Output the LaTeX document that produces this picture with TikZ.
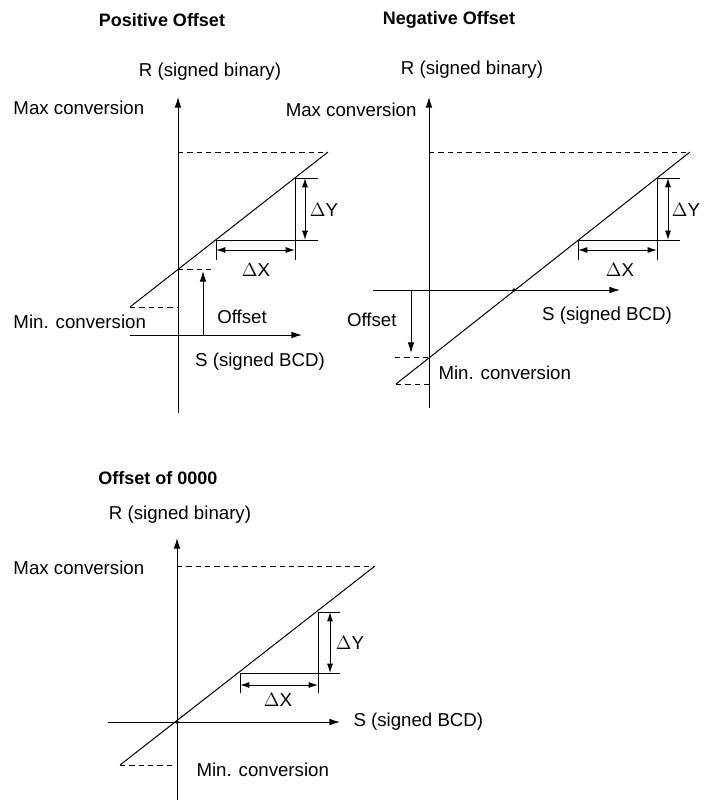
\documentclass[tikz,border=0pt]{standalone}
\usepackage{fontspec}
\setmainfont{Liberation Sans}
\usetikzlibrary{arrows.meta}
\tikzset{every picture/.style={line width=0.75pt}}
\tikzset{
  lbl/.style={inner sep=0.75pt,font=\fontsize{14}{16}\selectfont},
  ttl/.style={inner sep=0.75pt,font=\fontsize{13.5}{16}\selectfont\bfseries},
  axis/.style={-{Latex[length=8pt,width=5pt]}},
  dim/.style={{Latex[length=7pt,width=4.5pt]}-{Latex[length=7pt,width=4.5pt]}},
  dsh/.style={dash pattern=on 4pt off 3pt}
}
\begin{document}
\begin{tikzpicture}[x=0.75pt,y=0.75pt,yscale=-1,xscale=1]
\useasboundingbox (0,0) rectangle (704,801);

% Positive Offset
\node[ttl] (t1) at (162,20) {Positive Offset};
\coordinate (p-yb) at (178,413); \coordinate (p-yt) at (178,97);
\coordinate (p-xl) at (130,335); \coordinate (p-xr) at (302,335);
\coordinate (p-a) at (130,307); \coordinate (p-b) at (328,152);
\coordinate (p-c) at (178,269); \coordinate (p-d) at (212,269);
\coordinate (p-e) at (178,307); \coordinate (p-f) at (178,152);
\coordinate (p-o) at (203,335); \coordinate (p-oo) at (203,271);
\coordinate (p-y1) at (295,178); \coordinate (p-y1r) at (318,178);
\coordinate (p-x1) at (216,240); \coordinate (p-y2r) at (318,240);
\coordinate (p-x1b) at (216,260); \coordinate (p-x2b) at (295,260);
\draw[axis] (p-yb) -- (p-yt);
\draw[axis] (p-xl) -- (p-xr);
\draw (p-a) -- (p-b);
\draw[dsh] (p-f) -- (p-b);
\draw[dsh] (p-c) -- (p-d);
\draw[dsh] (p-a) -- (p-e);
\draw[axis] (p-o) -- (p-oo);
\draw (p-y1) -- (p-y1r);
\draw (p-x1) -- (p-y2r);
\draw (p-y1) -- (p-x2b);
\draw (p-x1) -- (p-x1b);
\draw[dim] (305,178) -- (305,240);
\draw[dim] (216,250) -- (295,250);
\node[lbl] (p-r) at (210,72) {R (signed binary)};
\node[lbl,anchor=west] (p-max) at (12,108) {Max conversion};
\node[lbl,anchor=west] (p-min) at (12,322) {Min. conversion};
\node[lbl] (p-off) at (242,317) {Offset};
\node[lbl] (p-s) at (260,362) {S (signed BCD)};
\node[lbl] (p-dx) at (256,270) {$\Delta$X};
\node[lbl] (p-dy) at (324,210) {$\Delta$Y};

% Negative Offset
\node[ttl] (t2) at (449,20) {Negative Offset};
\coordinate (n-yb) at (429,408); \coordinate (n-yt) at (429,97);
\coordinate (n-xl) at (373,290); \coordinate (n-xr) at (620,290);
\coordinate (n-a) at (396,384); \coordinate (n-b) at (690,152);
\coordinate (n-z) at (514,290);
\coordinate (n-c) at (395,357); \coordinate (n-d) at (429,357);
\coordinate (n-e) at (429,384); \coordinate (n-f) at (429,152);
\coordinate (n-o) at (411,290); \coordinate (n-oo) at (411,353);
\coordinate (n-y1) at (657,178); \coordinate (n-y1r) at (680,178);
\coordinate (n-x1) at (578,240); \coordinate (n-y2r) at (680,240);
\coordinate (n-x1b) at (578,260); \coordinate (n-x2b) at (657,260);
\draw[axis] (n-yb) -- (n-yt);
\draw[axis] (n-xl) -- (n-xr);
\draw (n-a) -- (n-b);
\fill (n-z) circle (1.8);
\draw[dsh] (n-f) -- (n-b);
\draw[dsh] (n-c) -- (n-d);
\draw[dsh] (n-a) -- (n-e);
\draw[axis] (n-o) -- (n-oo);
\draw (n-y1) -- (n-y1r);
\draw (n-x1) -- (n-y2r);
\draw (n-y1) -- (n-x2b);
\draw (n-x1) -- (n-x1b);
\draw[dim] (668,178) -- (668,240);
\draw[dim] (578,250) -- (657,250);
\node[lbl] (n-r) at (472,70) {R (signed binary)};
\node[lbl,anchor=east] (n-max) at (418,110) {Max conversion};
\node[lbl,anchor=west] (n-min) at (437,373) {Min. conversion};
\node[lbl,anchor=east] (n-off) at (398,320) {Offset};
\node[lbl] (n-s) at (607,316) {S (signed BCD)};
\node[lbl] (n-dx) at (620,270) {$\Delta$X};
\node[lbl] (n-dy) at (686,210) {$\Delta$Y};

% Offset of 0000
\node[ttl] (t3) at (158,478) {Offset of 0000};
\coordinate (z-yb) at (177,800); \coordinate (z-yt) at (177,538);
\coordinate (z-xl) at (108,722); \coordinate (z-xr) at (340,722);
\coordinate (z-a) at (120,765); \coordinate (z-b) at (375,566);
\coordinate (z-z) at (177,722);
\coordinate (z-e) at (175,765); \coordinate (z-f) at (177,566);
\coordinate (z-y1) at (318,612); \coordinate (z-y1r) at (340,612);
\coordinate (z-x1) at (240,673); \coordinate (z-y2r) at (340,673);
\coordinate (z-x1b) at (240,693); \coordinate (z-x2b) at (318,693);
\draw[axis] (z-yb) -- (z-yt);
\draw[axis] (z-xl) -- (z-xr);
\draw (z-a) -- (z-b);
\fill (z-z) circle (1.8);
\draw[dsh] (z-f) -- (z-b);
\draw[dsh] (z-a) -- (z-e);
\draw (z-y1) -- (z-y1r);
\draw (z-x1) -- (z-y2r);
\draw (z-y1) -- (z-x2b);
\draw (z-x1) -- (z-x1b);
\draw[dim] (330,612) -- (330,673);
\draw[dim] (240,685) -- (318,685);
\node[lbl] (z-r) at (180,515) {R (signed binary)};
\node[lbl,anchor=west] (z-max) at (12,568) {Max conversion};
\node[lbl,anchor=west] (z-min) at (195,770) {Min. conversion};
\node[lbl,anchor=west] (z-s) at (352,722) {S (signed BCD)};
\node[lbl] (z-dx) at (278,700) {$\Delta$X};
\node[lbl] (z-dy) at (350,643) {$\Delta$Y};
\end{tikzpicture}
\end{document}
